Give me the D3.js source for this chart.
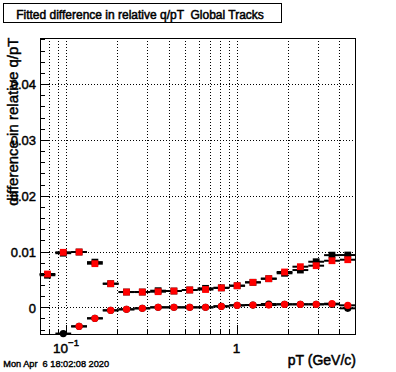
<!DOCTYPE html>
<html>
<head>
<meta charset="utf-8">
<script src="https://cdn.jsdelivr.net/npm/d3@7"></script>
<style>
  html, body { margin: 0; padding: 0; background: #fff; }
  svg { display: block; }
  text { font-family: "Liberation Sans", Arial, Helvetica, sans-serif; fill: #000; }
</style>
</head>
<body>
<svg id="chart" width="396" height="372"></svg>
<script>
// ---------- data ----------
const chartTitle = "Fitted difference in relative q/pT  Global Tracks";
const xTitle = "pT (GeV/c)";
const yTitle = "difference in relative q/pT";
const dateText = "Mon Apr  6 18:02:08 2020";

// pT bin edges (GeV/c), 20 bins
const binEdges = [0.07, 0.08665, 0.10727, 0.13279, 0.16438, 0.20349, 0.25190, 0.31183,
  0.38602, 0.47786, 0.59155, 0.73228, 0.90650, 1.12216, 1.38914, 1.71962, 2.12872,
  2.63515, 3.26205, 4.03809, 5.0];
// bin centres
const pT = [0.07788, 0.09641, 0.11935, 0.14774, 0.18289, 0.22640, 0.28026, 0.34694,
  0.42948, 0.53166, 0.65815, 0.81473, 1.00856, 1.24850, 1.54553, 1.91322, 2.36840,
  2.93186, 3.62938, 4.49286];

const blackSquares = [0.00575, 0.00970, 0.00991, 0.00810, 0.00423, 0.00274, 0.00274, 0.00298,
  0.00292, 0.00311, 0.00340, 0.00349, 0.00387, 0.00448, 0.00513, 0.00610, 0.00668, 0.00817,
  0.00935, 0.00937];
const redSquares = [0.00597, 0.00986, 0.00991, 0.00782, 0.00423, 0.00274, 0.00274, 0.00280,
  0.00292, 0.00311, 0.00319, 0.00349, 0.00387, 0.00448, 0.00513, 0.00633, 0.00728, 0.00746,
  0.00835, 0.00853];
const blackCircles = [null, -0.00470, -0.00341, -0.00197, -0.00054, -0.00036, -0.00018, 0.0,
  0.0, 0.0, 0.0, 0.00018, 0.00036, 0.00041, 0.00060, 0.00054, 0.00054, 0.00054, 0.00054,
  -0.00018];
const redCircles = [null, null, -0.00341, -0.00197, -0.00054, -0.00036, -0.00018, 0.0,
  0.0, 0.0, 0.0, 0.00018, 0.00036, 0.00041, 0.00041, 0.00054, 0.00054, 0.00054, 0.00065,
  0.00036];

const yMajorTicks = [0, 0.01, 0.02, 0.03, 0.04];
const yTickLabels = ["0", "0.01", "0.02", "0.03", "0.04"];
const yMinorTicks = [-0.004, -0.002, 0.002, 0.004, 0.006, 0.008, 0.012, 0.014, 0.016, 0.018,
  0.022, 0.024, 0.026, 0.028, 0.032, 0.034, 0.036, 0.038, 0.042, 0.044, 0.046, 0.048];
const xMajorTicks = [0.1, 1];
const xTickBase = ["10", "1"];
const xTickExp = ["\u22121", ""];
const xMinorTicks = [0.08, 0.09, 0.2, 0.3, 0.4, 0.5, 0.6, 0.7, 0.8, 0.9, 2, 3, 4];

// ---------- layout ----------
const frame = { left: 40, right: 356, top: 37.5, bottom: 334 };
const svg = d3.select("#chart");
svg.append("rect").attr("width", 396).attr("height", 372).attr("fill", "#fff");

const x = d3.scaleLog().domain([0.0704, 5.02]).range([frame.left, frame.right]);
const y = d3.scaleLinear().domain([-0.00478, 0.04835]).range([frame.bottom, frame.top]);

// grid
const grid = svg.append("g").attr("stroke", "#000").attr("stroke-width", 1)
  .attr("stroke-dasharray", "1,2").attr("shape-rendering", "crispEdges");
grid.selectAll("line.gx").data(xMajorTicks.concat(xMinorTicks)).join("line")
  .attr("x1", d => Math.round(x(d)) + 0.5).attr("x2", d => Math.round(x(d)) + 0.5)
  .attr("y1", frame.top).attr("y2", frame.bottom);
grid.selectAll("line.gy").data(yMajorTicks).join("line")
  .attr("y1", d => Math.round(y(d)) + 0.5).attr("y2", d => Math.round(y(d)) + 0.5)
  .attr("x1", frame.left).attr("x2", frame.right);

// data series
function drawSeries(vals, color, shape) {
  const g = svg.append("g");
  const pts = vals.map((v, i) => ({ v, i })).filter(d => d.v !== null);
  g.selectAll("line").data(pts).join("line")
    .attr("x1", d => x(binEdges[d.i])).attr("x2", d => x(binEdges[d.i + 1]))
    .attr("y1", d => y(d.v)).attr("y2", d => y(d.v))
    .attr("stroke", "#000").attr("stroke-width", 2);
  if (shape === "square") {
    g.selectAll("rect").data(pts).join("rect")
      .attr("x", d => x(pT[d.i]) - 3.4).attr("y", d => y(d.v) - 3.4)
      .attr("width", 6.8).attr("height", 6.8).attr("fill", color);
  } else {
    g.selectAll("circle").data(pts).join("circle")
      .attr("cx", d => x(pT[d.i])).attr("cy", d => y(d.v))
      .attr("r", 3.6).attr("fill", color);
  }
}
drawSeries(blackSquares, "#000", "square");
drawSeries(blackCircles, "#000", "circle");
drawSeries(redSquares, "#ff0000", "square");
drawSeries(redCircles, "#ff0000", "circle");

// frame
svg.append("rect").attr("x", frame.left + 0.5).attr("y", Math.round(frame.top) + 0.5)
  .attr("width", frame.right - frame.left - 1).attr("height", frame.bottom - Math.round(frame.top) - 0.5)
  .attr("fill", "none").attr("stroke", "#000").attr("stroke-width", 1)
  .attr("shape-rendering", "crispEdges");

// y axis
const yAxisMajor = d3.axisLeft(y).tickValues(yMajorTicks).tickSize(-9.5).tickPadding(4)
  .tickFormat((d, i) => yTickLabels[i]);
const yAxisMinor = d3.axisLeft(y).tickValues(yMinorTicks).tickSize(-5).tickFormat("");
const ya = svg.append("g").attr("transform", `translate(${frame.left},0)`);
ya.append("g").call(yAxisMinor);
ya.append("g").call(yAxisMajor);
ya.selectAll(".domain").remove();
ya.selectAll("line").attr("stroke", "#000").attr("shape-rendering", "crispEdges");
ya.selectAll("text").attr("font-size", 13).attr("dy", "0.36em")
  .attr("stroke", "#000").attr("stroke-width", 0.45);

// x axis
const xAxisMajor = d3.axisBottom(x).tickValues(xMajorTicks).tickSize(-8.9).tickFormat("");
const xAxisMinor = d3.axisBottom(x).tickValues(xMinorTicks).tickSize(-4.5).tickFormat("");
const xa = svg.append("g").attr("transform", `translate(0,${frame.bottom})`);
xa.append("g").call(xAxisMinor);
xa.append("g").call(xAxisMajor);
xa.selectAll(".domain").remove();
xa.selectAll("line").attr("stroke", "#000").attr("shape-rendering", "crispEdges");

const xl = svg.append("g");
xMajorTicks.forEach((v, i) => {
  const t = xl.append("text").attr("y", 352.7).attr("font-size", 13.5)
    .attr("stroke", "#000").attr("stroke-width", 0.45).attr("text-anchor", "middle")
    .attr("x", x(v));
  t.append("tspan").text(xTickBase[i]);
  if (xTickExp[i]) {
    t.append("tspan").attr("font-size", 9.5).attr("dy", -6.5).text(xTickExp[i]);
  }
});

// axis titles
svg.append("text").attr("x", frame.right).attr("y", 364.5).attr("text-anchor", "end")
  .attr("font-size", 14).attr("stroke", "#000").attr("stroke-width", 0.5).text(xTitle);
svg.append("text").attr("transform", `translate(18,${frame.top}) rotate(-90)`)
  .attr("text-anchor", "end").attr("font-size", 15)
  .attr("stroke", "#000").attr("stroke-width", 0.45).text(yTitle);

// title box
svg.append("rect").attr("x", 3.5).attr("y", 3.5).attr("width", 278).attr("height", 19)
  .attr("fill", "#fff").attr("stroke", "#000").attr("stroke-width", 1);
svg.append("text").attr("x", 140).attr("y", 18.5).attr("text-anchor", "middle")
  .attr("font-size", 12).attr("stroke", "#000").attr("stroke-width", 0.5)
  .text(chartTitle).style("white-space", "pre");

// date stamp
svg.append("text").attr("x", 3.3).attr("y", 367).attr("font-size", 9.2)
  .attr("stroke", "#000").attr("stroke-width", 0.4)
  .style("white-space", "pre").text(dateText);
</script>
</body>
</html>
